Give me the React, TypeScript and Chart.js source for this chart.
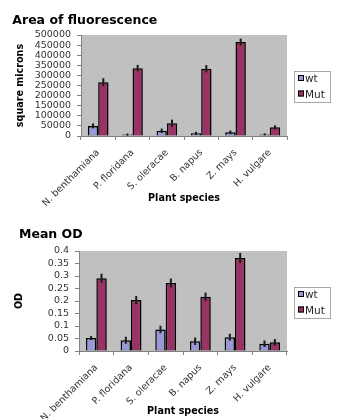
import React, { useEffect, useRef } from 'react';
import { Chart, registerables } from 'chart.js';

Chart.register(...registerables);
Chart.defaults.font.family = '"DejaVu Sans", Arial, sans-serif';

const categories = ['N. benthamiana', 'P. floridana', 'S. oleracae', 'B. napus', 'Z. mays', 'H. vulgare'];
const seriesNames = ['wt', 'Mut'];
const seriesColors = ['#9999D6', '#993366'];

const areaWt = [50000, 7000, 26000, 13000, 18000, 8000];
const areaWtErr = [12000, 5000, 11000, 8000, 9000, 5000];
const areaMut = [266000, 336000, 63000, 333000, 465000, 43000];
const areaMutErr = [20000, 16000, 18000, 18000, 17000, 10000];

const odWt = [0.052, 0.043, 0.086, 0.039, 0.055, 0.029];
const odWtErr = [0.008, 0.014, 0.015, 0.015, 0.014, 0.013];
const odMut = [0.291, 0.204, 0.272, 0.217, 0.372, 0.035];
const odMutErr = [0.018, 0.016, 0.018, 0.017, 0.02, 0.013];

const areaAxis = { max: 500000, step: 50000 };
const odAxis = { max: 0.4, step: 0.05 };

type Spec = {
  title: string;
  yTitle: string;
  series: number[][];
  errors: number[][];
  max: number;
  step: number;
  height: number;
  padLeft: number;
  yWidth: number;
  padTop: number;
  xHeight: number;
  titleX: number;
  titleBaseline: number;
  yTitlePad: number;
  xTitlePadBottom: number;
};

function BarChart({ spec }: { spec: Spec }) {
  const ref = useRef<HTMLCanvasElement | null>(null);
  useEffect(() => {
    if (!ref.current) return;
    const bgPlugin = {
      id: 'bg',
      beforeDraw(chart: any) {
        const { ctx, chartArea } = chart;
        ctx.save();
        ctx.fillStyle = '#ffffff';
        ctx.fillRect(0, 0, chart.width, chart.height);
        ctx.fillStyle = '#C0C0C0';
        ctx.fillRect(chartArea.left, chartArea.top, chartArea.right - chartArea.left, chartArea.bottom - chartArea.top);
        ctx.restore();
      },
      beforeDatasetsDraw(chart: any) {
        const { ctx } = chart;
        ctx.save();
        ctx.shadowColor = 'rgba(0,0,0,0.25)';
        ctx.shadowOffsetX = 1.5;
        ctx.shadowOffsetY = 1;
        ctx.shadowBlur = 0;
      },
    };
    const errPlugin = {
      id: 'err',
      afterDatasetsDraw(chart: any) {
        const { ctx } = chart;
        ctx.restore();
        const y = chart.scales.y;
        ctx.save();
        ctx.strokeStyle = '#1a1a1a';
        ctx.lineWidth = 2;
        chart.data.datasets.forEach((ds: any, d: number) => {
          const meta = chart.getDatasetMeta(d);
          meta.data.forEach((el: any, i: number) => {
            const v = ds.data[i];
            const e = spec.errors[d][i];
            ctx.beginPath();
            ctx.moveTo(el.x, y.getPixelForValue(v + e));
            ctx.lineTo(el.x, y.getPixelForValue(Math.max(0, v - e)));
            ctx.stroke();
          });
        });
        ctx.restore();
      },
    };
    const decoPlugin = {
      id: 'deco',
      afterDraw(chart: any) {
        const { ctx, chartArea } = chart;
        ctx.save();
        ctx.fillStyle = '#000';
        ctx.font = 'bold 12.5px "DejaVu Sans", Arial, sans-serif';
        ctx.textAlign = 'left';
        ctx.textBaseline = 'alphabetic';
        ctx.fillText(spec.title, spec.titleX, spec.titleBaseline);
        // legend
        const bw = 36;
        const bh = 31;
        const bx = chartArea.right + 7;
        const by = Math.round((chartArea.top + chartArea.bottom) / 2 + 1 - bh / 2);
        ctx.fillStyle = '#ffffff';
        ctx.fillRect(bx, by, bw, bh);
        ctx.strokeStyle = '#a8a8a8';
        ctx.lineWidth = 1;
        ctx.strokeRect(bx + 0.5, by + 0.5, bw, bh);
        ctx.font = '10.5px "DejaVu Sans", Arial, sans-serif';
        chart.data.datasets.forEach((ds: any, d: number) => {
          const sy = by + 4 + d * 15.5;
          ctx.fillStyle = ds.backgroundColor;
          ctx.fillRect(bx + 4, sy, 6, 6);
          ctx.strokeStyle = '#000';
          ctx.strokeRect(bx + 4.5, sy + 0.5, 5, 5);
          ctx.fillStyle = '#222';
          ctx.fillText(ds.label, bx + 11, sy + 7);
        });
        ctx.restore();
      },
    };
    const fmt = (v: any) => String(Number(Number(v).toFixed(4)));
    const chart = new Chart(ref.current, {
      type: 'bar',
      data: {
        labels: categories,
        datasets: spec.series.map((s, d) => ({
          label: seriesNames[d],
          data: s,
          backgroundColor: seriesColors[d],
          borderColor: '#000',
          borderWidth: 1.5,
          categoryPercentage: 0.6,
          barPercentage: 1.0,
        })),
      },
      options: {
        responsive: false,
        animation: false,
        layout: { padding: { left: spec.padLeft, right: 55, top: spec.padTop, bottom: 0 } },
        plugins: { legend: { display: false }, title: { display: false }, tooltip: { enabled: false } },
        scales: {
          x: {
            type: 'category',
            grid: { display: true, drawOnChartArea: false, drawTicks: true, tickLength: 4, color: '#808080', offset: true },
            border: { display: true, color: '#808080', width: 1 },
            ticks: { minRotation: 45, maxRotation: 45, autoSkip: false, font: { size: 9.5 }, color: '#333', padding: 7 },
            title: { display: true, text: 'Plant species', font: { size: 9.6, weight: 'bold' }, color: '#000', padding: { top: 0, bottom: spec.xTitlePadBottom } },
            afterFit: (s: any) => { s.height = spec.xHeight; },
          },
          y: {
            min: 0,
            max: spec.max,
            grid: { drawOnChartArea: false, drawTicks: true, tickLength: 4, color: '#808080' },
            border: { display: true, color: '#808080', width: 1 },
            ticks: { stepSize: spec.step, autoSkip: false, padding: 6, font: { size: 9.5 }, color: '#333', callback: fmt },
            title: { display: true, text: spec.yTitle, font: { size: 9.6, weight: 'bold' }, color: '#000', padding: { top: spec.yTitlePad, bottom: 0 } },
            afterFit: (s: any) => { s.width = spec.yWidth; },
          },
        },
      } as any,
      plugins: [bgPlugin, errPlugin, decoPlugin],
    });
    return () => chart.destroy();
  }, [spec]);
  return <canvas ref={ref} width={342} height={spec.height} style={{ display: 'block' }} />;
}

const spec1: Spec = {
  title: 'Area of fluorescence',
  yTitle: 'square microns',
  series: [areaWt, areaMut],
  errors: [areaWtErr, areaMutErr],
  max: areaAxis.max,
  step: areaAxis.step,
  height: 210,
  padLeft: 12,
  yWidth: 69,
  padTop: 35,
  xHeight: 74,
  titleX: 12.3,
  titleBaseline: 24,
  yTitlePad: 3.2,
  xTitlePadBottom: 6.2,
};

const spec2: Spec = {
  title: 'Mean OD',
  yTitle: 'OD',
  series: [odWt, odMut],
  errors: [odWtErr, odMutErr],
  max: odAxis.max,
  step: odAxis.step,
  height: 209,
  padLeft: 12,
  yWidth: 67,
  padTop: 41,
  xHeight: 68,
  titleX: 19,
  titleBaseline: 28,
  yTitlePad: 2.2,
  xTitlePadBottom: 2.2,
};

export default function App() {
  return (
    <div style={{ position: 'absolute', left: 0, top: 0, width: 342, height: 419, background: '#fff', overflow: 'hidden' }}>
      <BarChart spec={spec1} />
      <BarChart spec={spec2} />
    </div>
  );
}
